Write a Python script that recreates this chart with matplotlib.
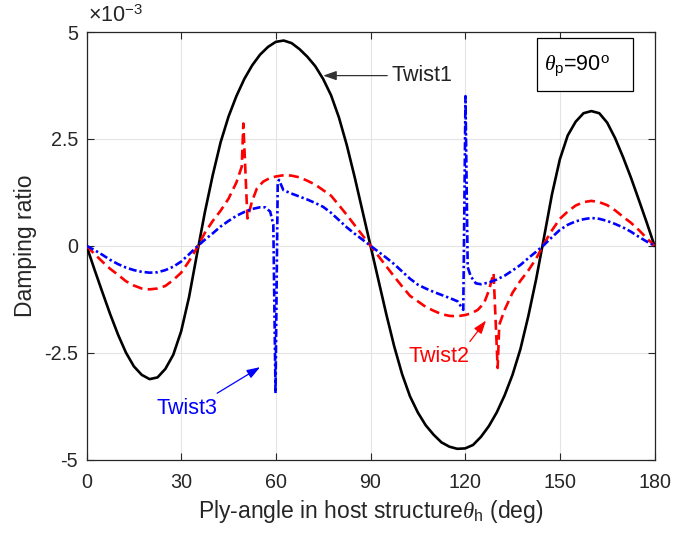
import matplotlib
matplotlib.use("Agg")
import matplotlib.pyplot as plt
from matplotlib.patches import Rectangle

plt.rcParams['font.family'] = ['Liberation Sans', 'DejaVu Sans']
plt.rcParams['mathtext.fontset'] = 'custom'
plt.rcParams['mathtext.rm'] = 'Liberation Sans'
plt.rcParams['mathtext.it'] = 'Liberation Serif:italic'
plt.rcParams['mathtext.bf'] = 'Liberation Sans:bold'
plt.rcParams['axes.unicode_minus'] = False

# ---- data (damping ratio in units of 1e-3) ----
twist1_x = [0, 2.5, 5, 7.5, 10, 12.5, 15, 17.5, 20, 22.5, 25, 27.5, 30, 32.5, 35, 37.5, 40, 42.5,
            45, 47.5, 50, 52.5, 55, 57.5, 60, 62.5, 65, 67.5, 70, 72.5, 75, 77.5, 80, 82.5, 85, 87.5,
            90, 92.5, 95, 97.5, 100, 102.5, 105, 107.5, 110, 112.5, 115, 117.5, 120, 122.5, 125,
            127.5, 130, 132.5, 135, 137.5, 140, 142.5, 145, 147.5, 150, 152.5, 155, 157.5, 160,
            162.5, 165, 167.5, 170, 172.5, 175, 177.5, 180]
twist1_y = [0, -0.55, -1.08, -1.6, -2.08, -2.5, -2.82, -3.02, -3.12, -3.08, -2.88, -2.55, -2.0,
            -1.2, -0.2, 0.78, 1.65, 2.42, 3.02, 3.5, 3.9, 4.22, 4.47, 4.65, 4.77, 4.8, 4.74, 4.6,
            4.42, 4.2, 3.9, 3.52, 3.0, 2.35, 1.6, 0.8,
            0, -0.8, -1.6, -2.35, -3.0, -3.52, -3.9, -4.2, -4.42, -4.6, -4.7, -4.75, -4.74, -4.66,
            -4.47, -4.22, -3.9, -3.5, -3.02, -2.42, -1.65, -0.78, 0.2, 1.2, 2.02, 2.58, 2.9, 3.1,
            3.15, 3.1, 2.88, 2.52, 2.08, 1.6, 1.08, 0.55, 0]

twist2_x = [0, 2.5, 5, 7.5, 10, 12.5, 15, 17.5, 20, 22.5, 25, 27.5, 30, 32.5, 35, 37.5, 40, 42.5,
            45, 47.5, 49.2, 49.7, 51.0, 52.5, 54, 56, 58, 60, 62.5, 65, 67.5, 70, 72.5, 75, 77.5,
            80, 82.5, 85, 87.5, 90, 92.5, 95, 97.5, 100, 102.5, 105, 107.5, 110, 112.5, 115,
            117.5, 120, 122, 124, 126, 127.5, 129.0, 130.3, 130.8, 132.5, 135, 137.5, 140, 142.5,
            145, 147.5, 150, 152.5, 155, 157.5, 160, 162.5, 165, 167.5, 170, 172.5, 175, 177.5, 180]
twist2_y = [0, -0.19, -0.37, -0.54, -0.68, -0.83, -0.93, -1.0, -1.02, -1.0, -0.94, -0.8, -0.63,
            -0.36, -0.05, 0.3, 0.58, 0.82, 1.1, 1.48, 1.85, 2.86, 0.64, 1.05, 1.34, 1.5, 1.58,
            1.62, 1.65, 1.64, 1.6, 1.52, 1.43, 1.3, 1.17, 0.95, 0.72, 0.48, 0.24,
            0, -0.24, -0.48, -0.72, -0.95, -1.17, -1.3, -1.43, -1.52, -1.6, -1.64, -1.65, -1.62,
            -1.58, -1.5, -1.34, -1.05, -0.64, -2.86, -1.85, -1.5, -1.1, -0.82, -0.58, -0.3, 0.05,
            0.36, 0.63, 0.8, 0.94, 1.02, 1.05, 1.02, 0.95, 0.83, 0.68, 0.54, 0.37, 0.18, 0]

twist3_x = [0, 2.5, 5, 7.5, 10, 12.5, 15, 17.5, 20, 22.5, 25, 27.5, 30, 32.5, 35, 37.5, 40, 42.5,
            45, 47.5, 50, 52.5, 55, 56.6, 58.2, 59.2, 59.9, 60.6, 61.0, 62.4, 65, 67.5, 70, 72.5,
            75, 77.5, 80, 82.5, 85, 87.5, 90, 92.5, 95, 97.5, 100, 102.5, 105, 107.5, 110, 112.5,
            115, 117.6, 119.4, 120.1, 120.8, 121.8, 123.4, 125, 127.5, 130, 132.5, 135, 137.5,
            140, 142.5, 145, 147.5, 150, 152.5, 155, 157.5, 160, 162.5, 165, 167.5, 170, 172.5,
            175, 177.5, 180]
twist3_y = [0, -0.1, -0.21, -0.33, -0.43, -0.51, -0.57, -0.61, -0.63, -0.62, -0.57, -0.49, -0.37,
            -0.2, -0.02, 0.14, 0.29, 0.45, 0.58, 0.7, 0.79, 0.86, 0.9, 0.9, 0.8, 0.5, -3.45, 1.48,
            1.54, 1.3, 1.22, 1.15, 1.08, 1.0, 0.91, 0.77, 0.6, 0.43, 0.28, 0.14,
            0, -0.14, -0.28, -0.43, -0.6, -0.77, -0.91, -1.0, -1.08, -1.15, -1.22, -1.3, -1.5,
            3.5, -0.5, -0.72, -0.88, -0.9, -0.86, -0.79, -0.7, -0.58, -0.45, -0.29, -0.14, 0.02,
            0.2, 0.37, 0.49, 0.57, 0.62, 0.65, 0.63, 0.58, 0.51, 0.43, 0.33, 0.21, 0.1, 0]

xticks = [0, 30, 60, 90, 120, 150, 180]
yticks = [-5, -2.5, 0, 2.5, 5]
ytick_labels = ['-5', '-2.5', '0', '2.5', '5']

W, H = 675, 536
fig = plt.figure(figsize=(W / 100, H / 100), dpi=100)
L, R, T, B = 86.5, 654.5, 32, 459.5
ax = fig.add_axes([L / W, 1 - B / H, (R - L) / W, (B - T) / H])

LW = 1.9
ax.plot(twist1_x, twist1_y, color='black', lw=LW, solid_joinstyle='round', zorder=3)
ax.plot(twist2_x, twist2_y, color='#ff0000', lw=LW, linestyle=(0, (3.8, 2.0)), zorder=3)
ax.plot(twist3_x, twist3_y, color='#0000ff', lw=LW, linestyle=(0, (3.0, 1.1, 0.9, 1.1)), zorder=3)

ax.set_xlim(0, 180)
ax.set_ylim(-5, 5)
ax.set_xticks(xticks)
ax.set_yticks(yticks)
ax.set_yticklabels(ytick_labels)
ax.grid(True, color='#e4e4e4', lw=0.8, zorder=0)
ax.set_axisbelow(True)
edge = '#262626'
for s in ax.spines.values():
    s.set_color(edge)
    s.set_linewidth(0.9)
ax.tick_params(direction='in', top=True, right=True, length=5, width=0.8,
               color=edge, labelcolor=edge, labelsize=14.2)
ax.tick_params(axis='x', pad=10)
ax.tick_params(axis='y', pad=6)

ax.set_xlabel(r'Ply-angle in host structure$\theta_{\rm h}$ (deg)', fontsize=16.5, color=edge, labelpad=4)
ax.set_ylabel('Damping ratio', fontsize=16.5, color=edge, labelpad=5)

ax.text(0.003, 1.012, r'$\times\mathrm{10}^{\mathrm{-3}}$', transform=ax.transAxes,
        fontsize=15.5, color=edge, ha='left', va='bottom')

# theta_p box
ax.add_patch(Rectangle((0.7926, 0.862), 0.169, 0.1233, transform=ax.transAxes,
                       fill=True, facecolor='white', edgecolor='black', lw=0.9, zorder=5))
ax.text(0.806, 0.922, r'$\theta_{\rm p}$=90$^{\rm o}$', transform=ax.transAxes,
        fontsize=15.5, ha='left', va='center', zorder=6)

arrow_kw = dict(arrowstyle='-|>,head_length=0.8,head_width=0.28', lw=0.9, shrinkA=0, shrinkB=0)
ax.annotate('', xy=(75.0, 3.98), xytext=(95.3, 3.98),
            arrowprops=dict(color='#333333', **arrow_kw))
ax.text(96.7, 3.98, 'Twist1', fontsize=15.5, color='#222222', ha='left', va='center')

ax.annotate('', xy=(126.6, -1.75), xytext=(121.5, -2.24),
            arrowprops=dict(color='#ff0000', **arrow_kw))
ax.text(111.7, -2.6, 'Twist2', fontsize=15.5, color='#ff0000', ha='center', va='center')

ax.annotate('', xy=(55.0, -2.84), xytext=(41.4, -3.45),
            arrowprops=dict(color='#0000ff', **arrow_kw))
ax.text(31.8, -3.8, 'Twist3', fontsize=15.5, color='#0000ff', ha='center', va='center')

fig.savefig('out.png', dpi=100, facecolor='white')
